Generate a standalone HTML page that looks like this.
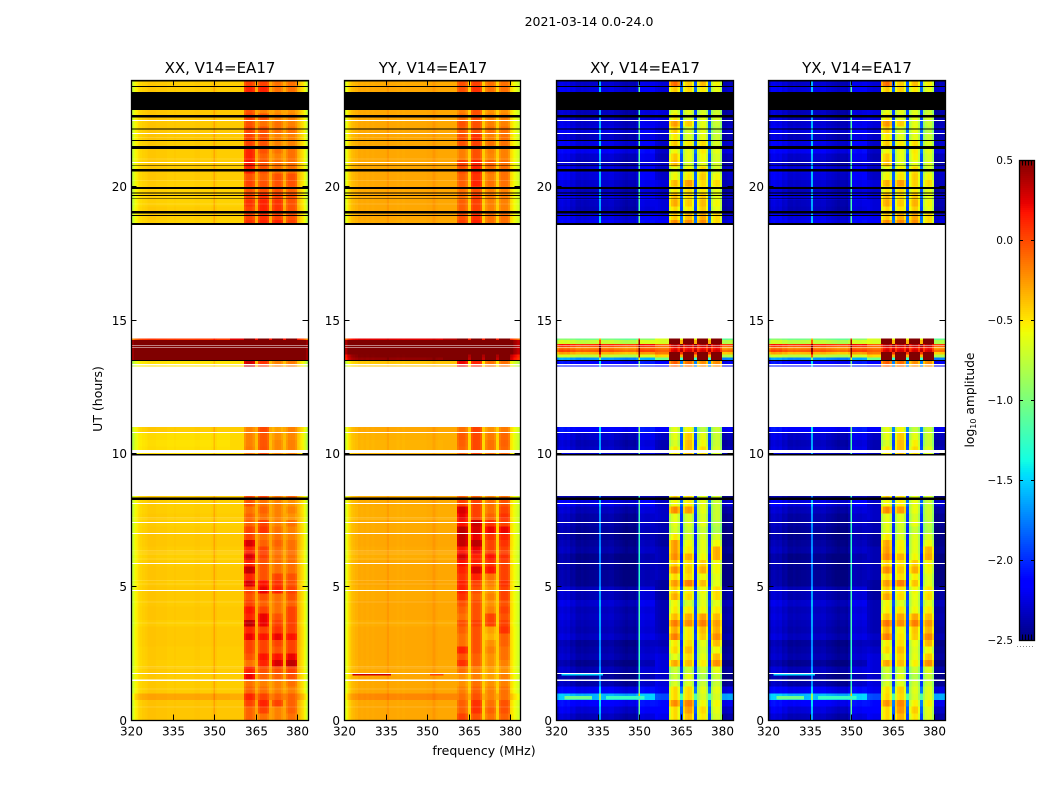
<!DOCTYPE html>
<html lang="en">
<head>
<meta charset="utf-8">
<title>2021-03-14 0.0-24.0</title>
<style>
html,body{margin:0;padding:0;background:#fff;width:1050px;height:800px;overflow:hidden}
svg{display:block}
text{font-family:"DejaVu Sans","Liberation Sans",sans-serif;fill:#000}
</style>
</head>
<body>
<svg id="figure" xmlns="http://www.w3.org/2000/svg" width="1050" height="800" viewBox="0 0 1050 800">
  <rect x="0" y="0" width="1050" height="800" fill="#fff"/>
  <text x="589" y="26" font-size="12.5" text-anchor="middle">2021-03-14 0.0-24.0</text>
  <text x="484" y="755" font-size="12.5" text-anchor="middle">frequency (MHz)</text>
  <text transform="translate(102,399) rotate(-90)" font-size="12.5" text-anchor="middle">UT (hours)</text>
  <text transform="translate(974,400) rotate(-90)" font-size="12.3" text-anchor="middle">log<tspan font-size="8" dy="2">10</tspan><tspan dy="-2"> amplitude</tspan></text>
  <g id="panels"></g>
  <g id="colorbar"></g>
</svg>
<script>
// ---- Chart data ----
const panelTitles = ["XX, V14=EA17", "YY, V14=EA17", "XY, V14=EA17", "YX, V14=EA17"];
const panelKeys = ["xx", "yy", "xy", "yx"];
const xTicks = [320, 335, 350, 365, 380];
const yTicks = [0, 5, 10, 15, 20];
const colorbarTicks = [0.5, 0, -0.5, -1, -1.5, -2, -2.5];
const colorbarTickLabels = ["0.5", "0.0", "\u22120.5", "\u22121.0", "\u22121.5", "\u22122.0", "\u22122.5"];

// frequency channel edges in MHz
const channelEdges = [320,320.5,321,321.5,322,322.5,323,324,325,326,327,328,329,330,331,332,333,334,335,335.6,336.2,337,338,339,340,341,342,343,344,345,346,347,348,349,349.8,350.3,351,352,353,354,355,355.8,356.8,357.8,358.8,359.8,360.8,361.6,362.4,363.2,364,364.8,365.9,366.7,367.5,368.3,369.1,369.9,371,371.8,372.6,373.4,374.2,374.9,376,376.8,377.6,378.4,379.2,380,380.5,381,381.5,382,382.5,383,383.5,384];
// which row column each channel reads: 0 low band, 1 mid band, 2-5 the four sub-bands
const channelBand = [0,0,0,0,0,0,0,0,0,0,0,0,0,0,0,0,0,0,0,0,0,0,0,0,0,0,0,0,0,0,0,0,0,0,0,0,0,0,0,0,0,1,1,1,1,1,2,2,2,2,2,0,3,3,3,3,3,0,4,4,4,4,4,0,5,5,5,5,5,0,0,0,0,0,0,0,0,0];
// per-channel log10 amplitude offsets
const xxProfile = [-.36,-.28,-.2,-.14,-.1,-.06,-.03,-.01,0,.02,.02,.02,.01,.01,.01,.01,0,0,0,.01,0,0,0,0,0,0,0,.01,.01,0,0,0,0,.01,.12,.02,0,0,0,0,0,0,0,0,0,0,-.15,-.08,-.07,-.08,-.14,.12,-.15,-.08,-.07,-.08,-.14,.12,-.15,-.08,-.07,-.08,-.14,.12,-.15,-.08,-.07,-.08,-.14,.1,.05,0,-.03,-.08,-.15,-.22,-.35];
const yyProfile = [-.4,-.33,-.25,-.18,-.12,-.08,-.05,-.03,0,-.01,0,-.01,0,-.01,0,0,0,0,.01,.05,0,0,0,-.01,0,-.01,0,0,0,0,0,0,0,0,.01,.01,.01,.05,.01,0,0,0,0,0,0,0,-.13,-.07,-.07,-.08,-.15,-.12,-.13,-.07,-.07,-.08,-.15,-.12,-.15,-.08,-.07,-.08,-.15,-.12,-.14,-.08,-.07,-.08,-.15,-.15,-.2,-.25,-.28,-.32,-.36,-.4,-.45];
const crossProfile = [-.32,-.15,-.07,-.07,-.05,-.07,-.09,-.07,-.13,-.11,-.17,-.17,-.15,-.17,-.16,-.15,-.15,-.14,-.12,.55,-.12,-.14,-.14,-.12,-.12,-.16,-.16,-.18,-.2,-.22,-.2,-.2,-.22,-.15,1,-.05,-.05,-.07,-.07,-.05,-.05,-.13,-.15,-.17,-.17,-.17,-.12,.03,.1,.1,-.05,.27,-.1,.05,.1,.08,-.08,.27,-.1,.05,.1,.08,-.1,.27,-.1,.05,.1,.08,-.12,-.22,-.22,-.22,-.22,-.19,-.19,-.19,-.19];

// UT bins in hours: [start, end]
const utRows = [[0,.25],[.25,.5],[.5,.75],[.75,1],[1,1.25],[1.25,1.5],[1.5,1.75],[1.75,2],[2,2.25],[2.25,2.5],[2.5,2.75],[2.75,3],[3,3.25],[3.25,3.5],[3.5,3.75],[3.75,4],[4,4.25],[4.25,4.5],[4.5,4.75],[4.75,5],[5,5.25],[5.25,5.5],[5.5,5.75],[5.75,6],[6,6.25],[6.25,6.5],[6.5,6.75],[6.75,7],[7,7.25],[7.25,7.5],[7.5,7.75],[7.75,8],[8,8.25],[8.25,8.4],
[9.92,10.25],[10.25,10.5],[10.5,10.78],[10.78,10.99],
[13.25,13.46],[13.46,13.6],[13.6,13.7],[13.7,13.8],[13.8,13.9],[13.9,14],[14,14.1],[14.1,14.25],[14.25,14.3],
[18.57,18.75],[18.75,19],[19,19.25],[19.25,19.5],[19.5,19.75],[19.75,20],[20,20.25],[20.25,20.5],[20.5,20.75],[20.75,21],[21,21.25],[21.25,21.5],[21.5,21.75],[21.75,22],[22,22.25],[22.25,22.5],[22.5,22.75],[22.75,23],[23,23.25],[23.25,23.5],[23.5,23.75],[23.75,24]];

// One row per UT bin: [low, mid, band1, band2, band3, band4]
const xxRows = [
[-.4,-.4,0,-.05,-.1,-.05],[-.4,-.4,0,.1,-.1,0],[-.4,-.4,.1,.2,.1,0],[-.3,-.32,.2,.1,0,0],[-.42,-.42,0,-.05,-.1,-.1],[-.42,-.42,-.05,-.1,-.1,-.05],[-.42,-.42,.3,0,0,.05],[-.42,-.42,.2,.05,.05,.1],
[-.43,-.43,-.05,.2,.35,.42],[-.42,-.42,.05,.25,.25,.3],[-.42,-.42,.1,.1,.05,.1],[-.41,-.41,.1,.1,.1,.1],[-.41,-.41,.3,.25,.3,.25],[-.41,-.41,.2,.1,.15,.1],[-.43,-.43,.42,.3,.1,.1],[-.41,-.41,.2,.3,.05,.1],
[-.41,-.41,.25,.1,-.05,.1],[-.42,-.42,.1,0,-.05,0],[-.41,-.41,.05,.05,-.05,.05],[-.41,-.41,.1,.3,.2,.1],[-.42,-.42,.35,.25,.15,.05],[-.41,-.41,.2,.05,.1,.05],[-.41,-.41,.4,.05,-.05,-.05],[-.42,-.42,.2,.05,-.05,-.05],
[-.43,-.43,.35,.1,-.05,-.05],[-.42,-.42,.2,.1,-.05,-.05],[-.41,-.41,.35,0,0,-.05],[-.41,-.41,.1,-.05,-.05,-.1],[-.42,-.42,.1,.15,-.05,-.1],[-.43,-.43,0,.1,-.1,-.05],[-.42,-.42,0,-.05,-.1,-.15],[-.43,-.43,-.05,0,-.1,-.1],[-.43,-.43,.05,-.05,-.1,-.15],[-.42,-.42,.1,.1,-.05,0],
[-.48,-.46,-.08,.05,-.12,-.1],[-.49,-.46,-.1,.04,-.12,-.1],[-.48,-.46,-.1,.03,-.15,-.12],[-.42,-.42,-.1,.08,-.2,-.1],
[-.5,-.5,.38,.15,-.1,-.08],[.7,.7,.7,.7,.7,.7],[.7,.7,.7,.7,.7,.7],[.7,.7,.7,.7,.7,.7],[.7,.7,.7,.7,.7,.7],[.7,.7,.7,.7,.7,.7],[.7,.7,.7,.7,.7,.7],[.7,.7,.7,.7,.7,.7],[.05,.25,.7,.7,.7,.7],
[-.44,-.44,.15,.2,.2,.1],[-.43,-.43,.1,.15,.1,.05],[-.42,-.42,.1,.2,.15,.05],[-.44,-.44,.15,.2,.15,.05],[-.44,-.44,.1,.15,.1,.05],[-.44,-.44,.05,.05,.05,0],[-.43,-.43,.1,.05,.05,.05],[-.42,-.42,.05,0,.05,.05],
[-.42,-.42,.2,.05,-.05,-.05],[-.42,-.42,.25,.05,-.05,-.05],[-.42,-.42,.2,0,-.1,-.05],[-.42,-.42,.2,.05,-.05,-.05],[-.42,-.42,.1,.05,-.1,-.1],[-.41,-.41,.1,.05,-.1,-.1],[-.41,-.41,.1,.05,-.05,-.05],[-.41,-.41,.05,-.05,-.05,-.1],
[-.41,-.41,.1,.05,-.1,-.1],[-.41,-.41,.05,-.1,-.15,-.15],[-.42,-.42,.1,.05,-.1,-.1],[-.42,-.42,.1,.05,-.1,-.1],[-.42,-.42,.2,.2,-.05,-.05],[-.42,-.42,.1,.1,-.05,-.05]];

const yyRows = [
[-.3,-.3,.1,.05,-.05,0],[-.3,-.3,0,.15,0,.05],[-.3,-.3,0,.15,-.05,.05],[-.2,-.2,-.05,.05,-.1,-.05],[-.3,-.3,-.1,0,-.1,-.05],[-.3,-.3,-.15,-.05,-.15,-.1],[-.3,-.3,-.15,-.1,-.2,-.1],[-.31,-.31,-.05,-.1,-.2,-.15],
[-.31,-.31,.15,0,-.15,-.1],[-.3,-.3,.05,0,-.15,-.05],[-.3,-.3,.2,.05,-.1,-.05],[-.3,-.3,-.05,.05,-.15,0],[-.3,-.3,-.05,.05,-.25,0],[-.3,-.3,0,.05,-.2,.15],[-.32,-.32,.05,.1,.1,.1],[-.3,-.3,-.05,.05,.1,.05],
[-.3,-.3,0,.05,-.1,.1],[-.3,-.3,.05,.05,-.15,.05],[-.31,-.31,.15,0,-.1,.1],[-.31,-.31,.2,.05,-.15,.1],[-.3,-.3,.2,.1,-.1,.15],[-.3,-.3,.15,.2,-.05,.1],[-.3,-.3,.2,.35,.25,.1],[-.3,-.3,.25,.2,.15,.1],
[-.32,-.32,.35,.2,.25,.15],[-.31,-.31,.25,.3,.1,.1],[-.3,-.3,.4,.42,.1,.15],[-.3,-.3,.4,.3,.15,.2],[-.31,-.31,.42,.35,.3,.3],[-.31,-.31,.25,.38,.15,.1],[-.32,-.32,.3,.1,0,.15],[-.32,-.32,.35,.1,-.05,.1],[-.31,-.31,.1,.1,-.05,.05],[-.31,-.31,0,0,-.1,-.05],
[-.34,-.33,-.02,.08,-.05,-.02],[-.34,-.33,0,.08,-.05,0],[-.33,-.33,.02,.08,-.08,-.02],[-.3,-.3,-.05,.1,-.15,-.08],
[-.4,-.4,.3,.2,-.05,-.05],[.45,.5,.7,.7,.7,.7],[.5,.6,.7,.7,.7,.7],[.7,.7,.7,.7,.7,.7],[.7,.7,.7,.7,.7,.7],[.7,.7,.7,.7,.7,.7],[.7,.7,.7,.7,.7,.7],[.7,.7,.7,.7,.7,.7],[.25,.35,.7,.7,.7,.7],
[-.31,-.31,.1,.2,-.05,-.05],[-.3,-.3,.05,.15,-.05,-.05],[-.3,-.3,0,.1,-.1,-.1],[-.3,-.3,0,.1,-.1,-.1],[-.3,-.3,-.05,.1,-.08,-.1],[-.3,-.3,-.05,.05,-.1,-.1],[-.3,-.3,0,.2,-.05,-.05],[-.3,-.3,0,.15,-.1,-.05],
[-.3,-.3,.05,.2,-.05,-.05],[-.3,-.3,.1,.2,0,-.05],[-.3,-.3,-.1,.05,-.12,-.1],[-.3,-.3,-.1,.05,-.1,-.1],[-.3,-.3,.05,.1,-.05,-.05],[-.3,-.3,.05,.15,-.1,-.05],[-.3,-.3,.02,.05,-.05,-.05],[-.3,-.3,.05,.05,-.1,-.1],
[-.3,-.3,-.05,.05,-.1,-.1],[-.3,-.3,-.1,.05,-.15,-.15],[-.3,-.3,0,.1,-.1,-.1],[-.3,-.3,0,.1,-.1,-.1],[-.3,-.3,.05,.15,-.05,-.05],[-.31,-.31,.05,.1,-.05,-.05]];

const xyRows = [
[-2.2,-2.05,-.55,-.45,-.6,-.75],[-2.12,-2,-.55,-.35,-.55,-.7],[-2.02,-1.95,-.3,-.25,-.65,-.65],[-1.45,-1.75,-.55,-.55,-.75,-.75],[-2.05,-2.05,-.55,-.55,-.7,-.7],[-2.25,-2.1,-.75,-.75,-.8,-.8],[-2.3,-2.15,-.8,-.7,-.9,-.8],[-2.22,-2.1,-.8,-.8,-.8,-.7],
[-2.3,-2.1,-.4,-.45,-.6,-.3],[-2.22,-2.1,-.7,-.55,-.7,-.45],[-2.25,-2.15,-.55,-.45,-.75,-.65],[-2.28,-2.2,-.6,-.55,-.7,-.45],[-2.18,-2.15,-.25,-.6,-.5,-.3],[-2.22,-2.2,-.4,-.6,-.45,-.4],[-2.2,-2.2,-.25,-.3,-.25,-.35],[-2.18,-2.2,-.45,-.4,-.35,-.45],
[-2.2,-2.2,-.6,-.6,-.65,-.6],[-2.15,-2.2,-.65,-.75,-.7,-.7],[-2.22,-2.25,-.4,-.55,-.7,-.55],[-2.2,-2.25,-.5,-.6,-.65,-.55],[-2.3,-2.25,-.35,-.25,-.45,-.7],[-2.3,-2.2,-.55,-.55,-.65,-.7],[-2.3,-2.2,-.3,-.5,-.4,-.65],[-2.28,-2.2,-.5,-.55,-.5,-.65],
[-2.32,-2.2,-.3,-.4,-.65,-.4],[-2.25,-2.2,-.35,-.6,-.7,-.4],[-2.28,-2.25,-.35,-.65,-.7,-.65],[-2.3,-2.25,-.6,-.75,-.75,-.75],[-2.28,-2.2,-.75,-.8,-.8,-.9],[-2.25,-2.2,-.7,-.75,-.7,-.85],[-2.25,-2.15,-.7,-.75,-.75,-.8],[-2.2,-2.15,-.3,-.35,-.7,-.8],[-2.1,-2.15,-.65,-.6,-.7,-.8],[-2.3,-2.3,-.5,-.55,-.7,-.75],
[-2.17,-2.2,-.6,-.45,-.55,-.75],[-2.2,-2.2,-.75,-.45,-.65,-.8],[-2.15,-2.15,-.7,-.5,-.7,-.8],[-2,-2,-.7,-.65,-.85,-.8],
[-2,-2,-.15,-.2,-.3,-.3],[-1.55,-.9,.7,.7,.7,.7],[-.6,-.3,.7,.7,.7,.7],[-.2,0,.7,.7,.7,.7],[.1,.1,.2,.2,.2,.2],[-.05,0,.1,.1,.1,.1],[.25,.1,.3,.3,.3,.3],[-.6,-.5,.7,.7,.7,.7],[-.87,-.5,.7,.7,.7,.7],
[-2.05,-2,-.3,-.3,-.3,-.55],[-2.1,-2.05,-.5,-.45,-.4,-.55],[-2.2,-2.1,-.55,-.6,-.5,-.7],[-2.18,-2.1,-.4,-.5,-.45,-.65],[-2.12,-2.1,-.45,-.55,-.5,-.7],[-2.2,-2.15,-.6,-.55,-.6,-.7],[-2.15,-2.1,-.45,-.35,-.55,-.55],[-2.12,-2.15,-.65,-.6,-.5,-.65],
[-2.1,-2.15,-.7,-.65,-.55,-.75],[-2.2,-2.15,-.45,-.75,-.7,-.75],[-2.15,-2.2,-.5,-.7,-.65,-.75],[-2.05,-2.15,-.65,-.7,-.6,-.7],[-2.1,-2.15,-.5,-.6,-.55,-.75],[-2.18,-2.15,-.6,-.75,-.7,-.8],[-2.1,-2.1,-.5,-.75,-.7,-.85],[-2.15,-2.1,-.35,-.5,-.7,-.8],
[-2.2,-2.1,-.6,-.75,-.7,-.75],[-2.2,-2.1,-.7,-.7,-.75,-.8],[-2.2,-2.2,-.7,-.7,-.75,-.8],[-2.2,-2.2,-.6,-.6,-.7,-.75],[-2.1,-2.1,-.5,-.55,-.6,-.7],[-2.15,-2.1,-.2,-.5,-.45,-.65]];

const yxRows = [
[-2.2,-2.05,-.55,-.42,-.58,-.72],[-2.12,-2,-.55,-.33,-.5,-.7],[-2.02,-1.95,-.32,-.28,-.62,-.62],[-1.43,-1.75,-.55,-.55,-.75,-.72],[-2.05,-2.05,-.58,-.52,-.72,-.72],[-2.25,-2.1,-.75,-.72,-.78,-.8],[-2.3,-2.15,-.82,-.72,-.88,-.8],[-2.2,-2.1,-.78,-.78,-.8,-.72],
[-2.3,-2.1,-.38,-.45,-.62,-.3],[-2.22,-2.1,-.7,-.52,-.7,-.48],[-2.25,-2.15,-.55,-.45,-.72,-.65],[-2.28,-2.2,-.62,-.55,-.68,-.42],[-2.18,-2.15,-.25,-.58,-.5,-.28],[-2.22,-2.2,-.4,-.62,-.48,-.42],[-2.2,-2.2,-.22,-.3,-.25,-.33],[-2.18,-2.2,-.45,-.38,-.38,-.45],
[-2.2,-2.2,-.62,-.58,-.65,-.6],[-2.15,-2.2,-.65,-.72,-.7,-.7],[-2.22,-2.25,-.38,-.55,-.68,-.55],[-2.2,-2.25,-.5,-.58,-.65,-.58],[-2.3,-2.25,-.35,-.25,-.48,-.7],[-2.3,-2.2,-.55,-.55,-.62,-.72],[-2.3,-2.2,-.3,-.48,-.4,-.65],[-2.28,-2.2,-.5,-.55,-.5,-.62],
[-2.32,-2.2,-.28,-.42,-.65,-.38],[-2.25,-2.2,-.35,-.6,-.7,-.42],[-2.28,-2.25,-.38,-.62,-.7,-.65],[-2.3,-2.25,-.6,-.75,-.72,-.75],[-2.28,-2.2,-.72,-.78,-.8,-.88],[-2.25,-2.2,-.7,-.75,-.68,-.85],[-2.25,-2.15,-.7,-.72,-.75,-.8],[-2.2,-2.15,-.3,-.35,-.68,-.78],[-2.1,-2.15,-.65,-.6,-.68,-.8],[-2.3,-2.3,-.5,-.55,-.7,-.75],
[-2.17,-2.2,-.6,-.45,-.55,-.72],[-2.2,-2.2,-.75,-.45,-.62,-.8],[-2.15,-2.15,-.7,-.5,-.7,-.78],[-2,-2,-.7,-.65,-.82,-.8],
[-2,-2,-.15,-.2,-.3,-.3],[-1.57,-.9,.7,.7,.7,.7],[-.62,-.3,.7,.7,.7,.7],[-.22,0,.7,.7,.7,.7],[.1,.1,.2,.2,.2,.2],[-.05,0,.1,.1,.1,.1],[.25,.1,.3,.3,.3,.3],[-.62,-.5,.7,.7,.7,.7],[-.87,-.5,.7,.7,.7,.7],
[-2.05,-2,-.3,-.28,-.3,-.55],[-2.1,-2.05,-.5,-.42,-.38,-.55],[-2.2,-2.1,-.55,-.58,-.5,-.68],[-2.18,-2.1,-.4,-.5,-.42,-.65],[-2.12,-2.1,-.45,-.55,-.48,-.7],[-2.2,-2.15,-.6,-.55,-.6,-.7],[-2.15,-2.1,-.42,-.35,-.52,-.55],[-2.12,-2.15,-.65,-.58,-.5,-.65],
[-2.1,-2.15,-.7,-.62,-.55,-.75],[-2.2,-2.15,-.45,-.72,-.7,-.72],[-2.15,-2.2,-.5,-.7,-.62,-.75],[-2.05,-2.15,-.65,-.68,-.6,-.7],[-2.1,-2.15,-.5,-.6,-.55,-.72],[-2.18,-2.15,-.6,-.72,-.7,-.8],[-2.1,-2.1,-.5,-.75,-.68,-.85],[-2.15,-2.1,-.33,-.5,-.7,-.8],
[-2.2,-2.1,-.6,-.72,-.7,-.75],[-2.2,-2.1,-.7,-.7,-.72,-.8],[-2.2,-2.2,-.7,-.7,-.75,-.8],[-2.2,-2.2,-.6,-.6,-.7,-.75],[-2.1,-2.1,-.5,-.52,-.6,-.7],[-2.15,-2.1,-.2,-.5,-.45,-.62]];

const panelRows = [xxRows, yyRows, xyRows, yxRows];
const panelProfiles = [xxProfile, yyProfile, crossProfile, crossProfile];

// flagged (black) UT ranges in hours
const flaggedBands = [[23.95,24],[23.73,23.775],[22.875,23.55],[22.59,22.69],[22.14,22.18],[21.71,21.75],[21.42,21.53],[20.78,20.8],[20.56,20.67],[19.92,19.98],[19.75,19.79],[19.65,19.69],[19.54,19.56],[19,19.08],[18.9,18.93],[18.57,18.64],[13.46,13.5],[9.92,9.98],[8.25,8.34]];
// missing (white) UT ranges in hours
const gapBands = [[22.46,22.5],[21.98,22.01],[20.89,20.93],[14.02,14.05],[13.96,13.99],[13.29,13.35],[10.76,10.8],[10.02,10.12],[8.1,8.14],[7.39,7.43],[6.98,7.02],[5.855,5.895],[4.84,4.88],[1.73,1.77],[1.47,1.51]];
// thin low-amplitude lines seen in the parallel hands
const faintLines = [7.62,7.56,6.37,6.31,6.25,6.06,5.25,5.12,4.45,3.66,2.02,1.96,1.19,.5,21.87,21.06,20.25,19.37];
// narrowband streaks: hours from, hours to, MHz from, MHz to, value
const yyStreaks = [[1.66,1.72,323,337,.3],[1.66,1.72,351,356,0]];
const xyStreaks = [[1.66,1.72,322,337,-1.5],[.76,.9,323,333,-1.05],[.76,.9,338,352,-1.25]];
const yxStreaks = [[1.66,1.72,322,337,-1.5],[.76,.9,323,333,-1.05],[.76,.9,338,352,-1.25]];
const panelStreaks = [[], yyStreaks, xyStreaks, yxStreaks];

// ---- Scales ----
const svgNS = "http://www.w3.org/2000/svg";
const panelLefts = [131, 344, 556, 768];
const panelWidths = [177, 176, 177, 177];
const plotTop = 80, plotBottom = 720;
const pxPerMHz = 41.5 / 15;
const freqMin = 320, freqMax = 384, utMax = 24;
const valueMin = -2.5, valueMax = 0.5;
function xScale(left, f) { return left + (f - freqMin) * pxPerMHz; }
function yScale(h) { return plotBottom - (h / utMax) * (plotBottom - plotTop); }

function ramp(stops, t) {
  for (let i = 1; i < stops.length; i++) {
    if (t <= stops[i][0]) {
      const a = stops[i - 1], b = stops[i];
      return a[1] + (b[1] - a[1]) * (t - a[0]) / (b[0] - a[0]);
    }
  }
  return stops[stops.length - 1][1];
}
const jetR = [[0,0],[.35,0],[.66,1],[.89,1],[1,.5]];
const jetG = [[0,0],[.125,0],[.375,1],[.64,1],[.91,0],[1,0]];
const jetB = [[0,.5],[.11,1],[.34,1],[.65,0],[1,0]];
function colorOf(v) {
  const t = Math.max(0, Math.min(1, (v - valueMin) / (valueMax - valueMin)));
  const c = s => Math.round(255 * ramp(s, t));
  return "rgb(" + c(jetR) + "," + c(jetG) + "," + c(jetB) + ")";
}
function make(tag, attrs, parent) {
  const el = document.createElementNS(svgNS, tag);
  for (const k in attrs) el.setAttribute(k, attrs[k]);
  parent.appendChild(el);
  return el;
}

// ---- Panels ----
const panelsGroup = document.getElementById("panels");
panelTitles.forEach((title, p) => {
  const left = panelLefts[p];
  const panelWidth = panelWidths[p];
  const key = panelKeys[p];
  const g = make("g", {}, panelsGroup);
  
  

  const cells = make("g", { "shape-rendering": "crispEdges" }, g);
  
  
  const rows = panelRows[p];
  const profile = panelProfiles[p];
  utRows.forEach((ut, r) => {
    const yTop = yScale(ut[1]);
    const yBot = yScale(ut[0]);
    channelBand.forEach((band, c) => {
      const x0 = xScale(left, channelEdges[c]);
      const x1 = Math.min(xScale(left, channelEdges[c + 1]), left + panelWidth);
      const cell = make("rect", { x: x0, y: yTop, width: Math.max(0, x1 - x0), height: yBot - yTop, fill: colorOf(rows[r][band] + profile[c]) }, cells);
      
      
    });
  });

  if (p < 2) {
    faintLines.forEach(h => {
      const line = make("rect", { x: left, y: yScale(h), width: panelWidth, height: 1, fill: "#fff", opacity: .16 }, cells);
      
      
    });
  }
  panelStreaks[p].forEach(s => {
    const streak = make("rect", { x: xScale(left, s[2]), y: yScale(s[1]), width: xScale(left, s[3]) - xScale(left, s[2]), height: yScale(s[0]) - yScale(s[1]), fill: colorOf(s[4]) }, cells);
    
    
  });
  flaggedBands.forEach(b => {
    const band = make("rect", { x: left, y: yScale(b[1]), width: panelWidth, height: yScale(b[0]) - yScale(b[1]), fill: "#000" }, cells);
    
    
  });
  gapBands.forEach(b => {
    const band = make("rect", { x: left, y: yScale(b[1]), width: panelWidth, height: yScale(b[0]) - yScale(b[1]), fill: "#fff" }, cells);
    
    
  });

  const frame = make("rect", { x: left + .5, y: plotTop + .5, width: panelWidth, height: plotBottom - plotTop, fill: "none", stroke: "#000", "stroke-width": 1.3 }, g);
  
  

  const titleEl = make("text", { x: left + 89, y: 73, "font-size": 15, "text-anchor": "middle" }, g);
  
  
  titleEl.textContent = title;

  xTicks.forEach(f => {
    const x = Math.round(xScale(left, f)) + .5;
    const d = "M" + x + " " + plotBottom + "v-5.5M" + x + " " + plotTop + "v5.5";
    const tick = make("path", { d: d, stroke: "#000", "stroke-width": 1, fill: "none" }, g);
    
    
    const label = make("text", { x: x, y: 735.5, "font-size": 12, "text-anchor": "middle" }, g);
    
    
    label.textContent = f;
  });
  yTicks.forEach(h => {
    const y = Math.floor(yScale(h)) + .5;
    const d = "M" + left + " " + y + "h5.5M" + (left + panelWidth) + " " + y + "h-5.5";
    const tick = make("path", { d: d, stroke: "#000", "stroke-width": 1, fill: "none" }, g);
    
    
    const label = make("text", { x: left - 4, y: y + 4.5, "font-size": 12, "text-anchor": "end" }, g);
    
    
    label.textContent = h;
  });
});

// ---- Colorbar ----
const cbGroup = document.getElementById("colorbar");
const cbLeft = 1019, cbRight = 1034, cbTop = 160, cbBottom = 640;
function cbY(v) { return cbBottom - (v - valueMin) / (valueMax - valueMin) * (cbBottom - cbTop); }
const cbFill = make("g", { "shape-rendering": "crispEdges" }, cbGroup);


for (let y = cbTop; y < cbBottom; y += 2) {
  const v = valueMax - (y + 1 - cbTop) / (cbBottom - cbTop) * (valueMax - valueMin);
  const seg = make("rect", { x: cbLeft, y: y, width: cbRight - cbLeft, height: 2, fill: colorOf(v) }, cbFill);
  
  
}
const cbFrame = make("rect", { x: cbLeft + .5, y: cbTop + .5, width: cbRight - cbLeft, height: cbBottom - cbTop, fill: "none", stroke: "#000", "stroke-width": 1.3 }, cbGroup);


colorbarTicks.forEach((v, i) => {
  const y = Math.round(cbY(v)) + .5;
  const tick = make("path", { d: "M" + cbLeft + " " + y + "h4M" + (cbRight + 1) + " " + y + "h-4", stroke: "#000", "stroke-width": 1, fill: "none" }, cbGroup);
  
  
  const label = make("text", { x: 1013, y: y + 3.5, "font-size": 10.5, "text-anchor": "end" }, cbGroup);
  
  
  label.textContent = colorbarTickLabels[i];
});
const cbEndTicks = make("path", { d: "M1022.5 160v5.5M1025.5 160v5.5M1028.5 160v5.5M1031.5 160v5.5M1022.5 640v-5.5M1025.5 640v-5.5M1028.5 640v-5.5M1031.5 640v-5.5", stroke: "#000", "stroke-width": 1, fill: "none" }, cbGroup);


const cbDots = make("path", { d: "M1017 646.5H1035", stroke: "#888", "stroke-width": 1, "stroke-dasharray": "1 2", fill: "none" }, cbGroup);


</script>
</body>
</html>
